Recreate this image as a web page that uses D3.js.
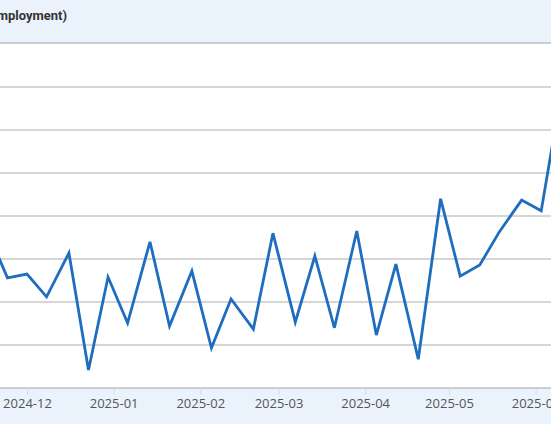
<!DOCTYPE html>
<html><head><meta charset="utf-8">
<script src="https://cdn.jsdelivr.net/npm/d3@7"></script>
<style>body{margin:0;background:#fff}svg{display:block}</style>
</head><body>
<script>
const dates = ["2024-11-16","2024-11-24","2024-12-01","2024-12-08","2024-12-16","2024-12-23","2024-12-30","2025-01-06","2025-01-14","2025-01-21","2025-01-29","2025-02-05","2025-02-12","2025-02-20","2025-02-27","2025-03-07","2025-03-14","2025-03-21","2025-03-29","2025-04-05","2025-04-12","2025-04-20","2025-04-28","2025-05-05","2025-05-12","2025-05-19","2025-05-27","2025-06-03","2025-06-10"];
const values = [3.79,2.56,2.65,2.12,3.14,0.42,2.58,1.51,3.40,1.44,2.72,0.93,2.07,1.37,3.60,1.53,3.07,1.40,3.65,1.23,2.88,0.67,4.40,2.60,2.86,3.63,4.37,4.12,6.81];
const tickLabels = ["2024-12","2025-01","2025-02","2025-03","2025-04","2025-05","2025-06"];
const gridValues = [1,2,3,4,5,6,7];
const titleText = "(% of employment)";

const W=551,H=424;
const svg=d3.select("body").append("svg").attr("width",W).attr("height",H);
const parse=d3.utcParse("%Y-%m-%d");
const x=d3.scaleUtc().domain([parse("2024-12-01"),parse("2025-05-01")]).range([27,449]);
const y=d3.scaleLinear().domain([0,8]).range([388,44]);

svg.append("rect").attr("x",0).attr("y",0).attr("width",W).attr("height",42).attr("fill","#eaf2fc");
svg.append("line").attr("x1",0).attr("x2",W).attr("y1",43).attr("y2",43).attr("stroke","#c9cdd4").attr("stroke-width",2);
svg.append("text").attr("x",67).attr("y",20).attr("text-anchor","end").attr("font-family","Roboto, sans-serif").attr("font-weight","bold").attr("font-size",13).attr("fill","#333").text(titleText);

svg.append("g").selectAll("line").data(gridValues).join("line")
  .attr("x1",0).attr("x2",W).attr("y1",d=>y(d)).attr("y2",d=>y(d))
  .attr("stroke","#c8c8c8").attr("stroke-width",1.5);

svg.append("rect").attr("x",0).attr("y",389).attr("width",W).attr("height",H-389).attr("fill","#eaf2fc");
svg.append("line").attr("x1",0).attr("x2",W).attr("y1",388).attr("y2",388).attr("stroke","#c9cdd4").attr("stroke-width",2);

const tickDates=tickLabels.map(t=>parse(t+"-01"));
const xa=svg.append("g").attr("transform","translate(0,388)")
  .call(d3.axisBottom(x).tickValues(tickDates).tickFormat((d,i)=>tickLabels[i]).tickSize(7).tickPadding(4));
xa.select(".domain").remove();
xa.selectAll("line").attr("stroke","#d4dae2");
xa.selectAll("text").attr("font-family","'Open Sans', sans-serif").attr("font-size",13).attr("fill","#555");

svg.append("clipPath").attr("id","c").append("rect").attr("x",0).attr("y",44).attr("width",W).attr("height",344);
svg.append("path").datum(dates.map((d,i)=>[parse(d),values[i]]))
  .attr("clip-path","url(#c)")
  .attr("d",d3.line().x(d=>x(d[0])).y(d=>y(d[1])))
  .attr("fill","none").attr("stroke","#1f6dbf").attr("stroke-width",2.8).attr("stroke-linejoin","miter");
</script>
</body></html>
